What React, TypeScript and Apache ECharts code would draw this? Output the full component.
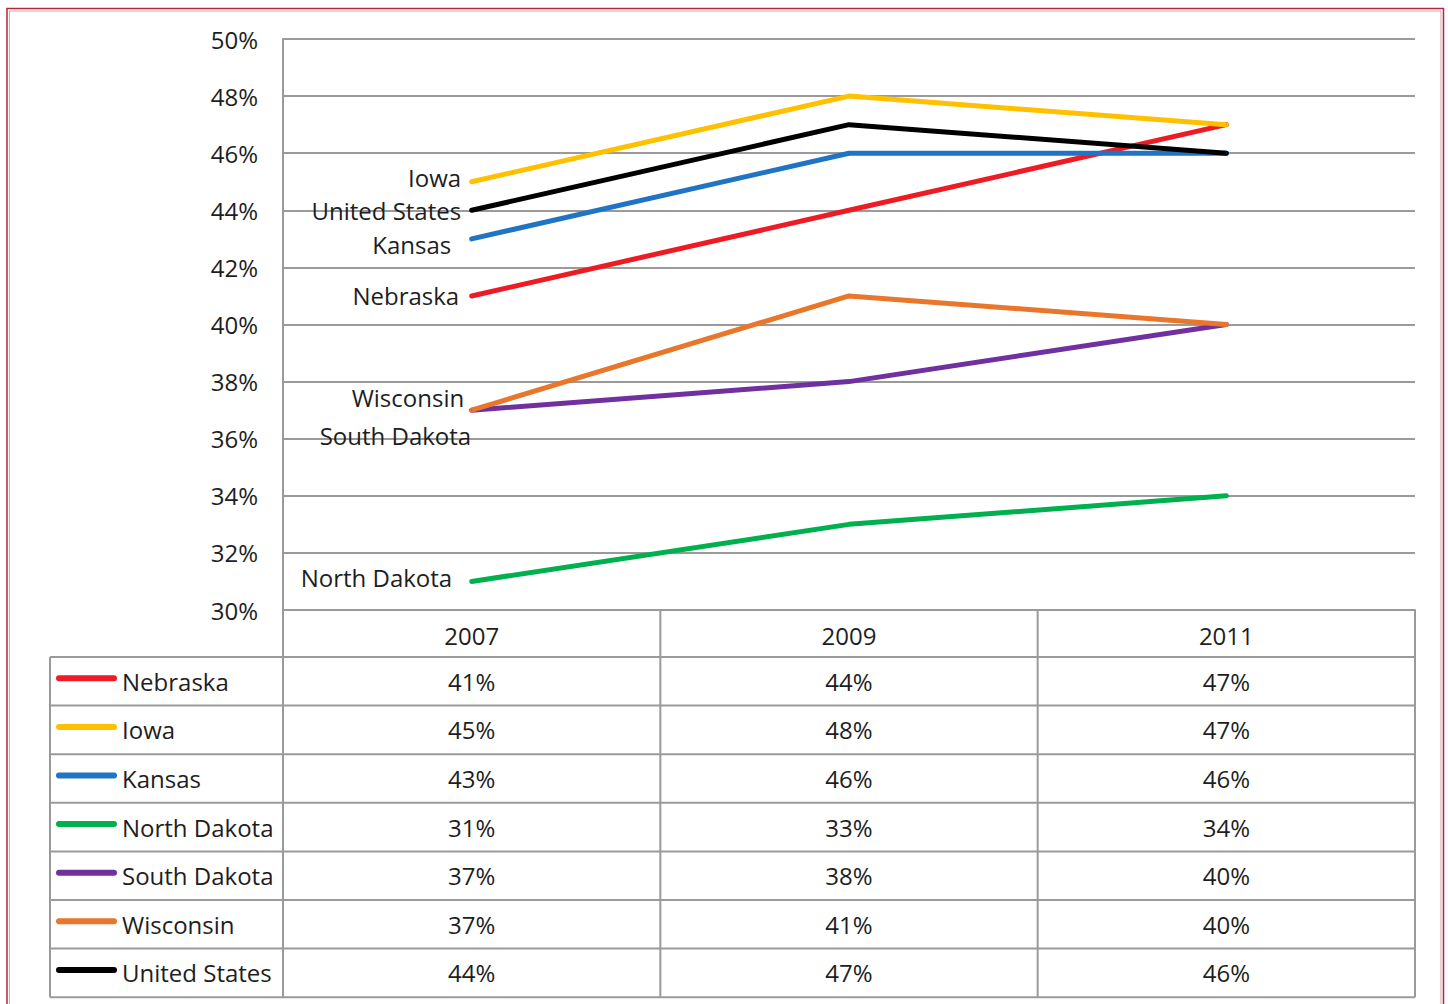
import React, { useEffect, useRef } from 'react';
import * as echarts from 'echarts';

// ---- data ----
const years = ['2007', '2009', '2011'];
const seriesNames = ['Nebraska', 'Iowa', 'Kansas', 'North Dakota', 'South Dakota', 'Wisconsin', 'United States'];
const nebraska = [41, 44, 47];
const iowa = [45, 48, 47];
const kansas = [43, 46, 46];
const northDakota = [31, 33, 34];
const southDakota = [37, 38, 40];
const wisconsin = [37, 41, 40];
const unitedStates = [44, 47, 46];
const yMin = 30;
const yMax = 50;
const yStep = 2;

const seriesValues = [nebraska, iowa, kansas, northDakota, southDakota, wisconsin, unitedStates];

// ---- styles ----
const colors = ['#ED1C24', '#FFC000', '#1F74C4', '#00B04F', '#7030A0', '#E8762B', '#000000'];
// label placement for the first-point name labels: [distance, dy]
const labelPlace: [number, number][] = [
  [12, 0],
  [10, -4],
  [20, 6],
  [19, -4],
  [0, 25],
  [7, -13],
  [10, 0],
];

const FONT = "'Open Sans', sans-serif";
const TXT = '#1e1e1e';
const GRID_C = '#9a9a9a';

export default function App() {
  const ref = useRef<HTMLDivElement>(null);
  useEffect(() => {
    if (!ref.current) return;
    const chart = echarts.init(ref.current, undefined, { renderer: 'svg' });
    const option: any = {
      animation: false,
      backgroundColor: '#ffffff',
      grid: { left: 283, top: 39, right: 33, bottom: 394, containLabel: false },
      xAxis: {
        type: 'category',
        data: years,
        boundaryGap: true,
        axisLine: { show: true, lineStyle: { color: GRID_C, width: 2 } },
        axisTick: { show: false },
        axisLabel: { fontFamily: FONT, fontSize: 24, color: TXT, margin: 13 },
        splitLine: { show: false },
      },
      yAxis: {
        type: 'value',
        min: yMin,
        max: yMax,
        interval: yStep,
        axisLine: { show: true, lineStyle: { color: GRID_C, width: 2 } },
        axisTick: { show: false },
        axisLabel: { fontFamily: FONT, fontSize: 24, color: TXT, margin: 25, formatter: '{value}%' },
        splitLine: { show: true, lineStyle: { color: GRID_C, width: 2 } },
      },
      series: seriesValues.map((vals, i) => ({
        type: 'line',
        name: seriesNames[i],
        symbol: 'circle',
        symbolSize: 1,
        showSymbol: true,
        itemStyle: { color: colors[i] },
        lineStyle: { color: colors[i], width: 5, cap: 'round', join: 'round' },
        emphasis: { disabled: true },
        label: { show: false },
        data: vals.map((v, j) =>
          j === 0
            ? {
                value: v,
                label: {
                  show: true,
                  position: 'left',
                  distance: labelPlace[i][0],
                  offset: [0, labelPlace[i][1]],
                  formatter: seriesNames[i],
                  fontFamily: FONT,
                  fontSize: 24,
                  lineHeight: 24,
                  color: TXT,
                },
              }
            : v
        ),
      })),
    };
    chart.setOption(option);

    // ---- data table below the chart, aligned to the axis scales ----
    const cx = years.map((y) => chart.convertToPixel({ xAxisIndex: 0 }, y) as number);
    const bw = cx[1] - cx[0];
    const edges = [cx[0] - bw / 2, ...cx.map((c) => c + bw / 2)];
    const yTop = chart.convertToPixel({ yAxisIndex: 0 }, yMin) as number;
    const headerH = 47;
    const rowH = 48.6;
    const tableLeft = 50;
    const rowsTop = yTop + headerH;
    const tableBottom = rowsTop + rowH * seriesNames.length;

    const g: any[] = [];
    // vertical lines
    edges.forEach((x) => {
      g.push({ type: 'line', shape: { x1: x, y1: yTop, x2: x, y2: tableBottom }, style: { stroke: GRID_C, lineWidth: 2 }, z: 5 });
    });
    g.push({ type: 'line', shape: { x1: tableLeft, y1: rowsTop, x2: tableLeft, y2: tableBottom }, style: { stroke: GRID_C, lineWidth: 2 }, z: 5 });
    // horizontal lines
    for (let r = 0; r <= seriesNames.length; r++) {
      const y = rowsTop + r * rowH;
      g.push({ type: 'line', shape: { x1: tableLeft, y1: y, x2: edges[3], y2: y }, style: { stroke: GRID_C, lineWidth: 2 }, z: 5 });
    }
    seriesNames.forEach((name, r) => {
      const yc = rowsTop + r * rowH + rowH / 2;
      g.push({
        type: 'line',
        shape: { x1: 59, y1: yc - 3, x2: 114, y2: yc - 3 },
        style: { stroke: colors[r], lineWidth: 6, lineCap: 'round' },
        z: 6,
      });
      g.push({
        type: 'text',
        x: 122,
        y: yc,
        style: { text: name, fontFamily: FONT, fontSize: 24, fill: TXT, align: 'left', verticalAlign: 'middle' },
        z: 6,
      });
      seriesValues[r].forEach((v, j) => {
        g.push({
          type: 'text',
          x: cx[j],
          y: yc,
          style: { text: v + '%', fontFamily: FONT, fontSize: 24, fill: TXT, align: 'center', verticalAlign: 'middle' },
          z: 6,
        });
      });
    });
    // red double page border
    g.push({ type: 'rect', shape: { x: 7, y: 8.5, width: 1436.5, height: 1200 }, style: { fill: 'none', stroke: '#B8243A', lineWidth: 1.5 }, z: 20 });
    g.push({ type: 'rect', shape: { x: 9.5, y: 11, width: 1431.5, height: 1200 }, style: { fill: 'none', stroke: '#E2A0A8', lineWidth: 1 }, z: 20 });

    chart.setOption({ graphic: { elements: g } });

    return () => chart.dispose();
  }, []);
  return <div ref={ref} style={{ position: 'absolute', left: 0, top: 0, width: 1448, height: 1004 }} />;
}
